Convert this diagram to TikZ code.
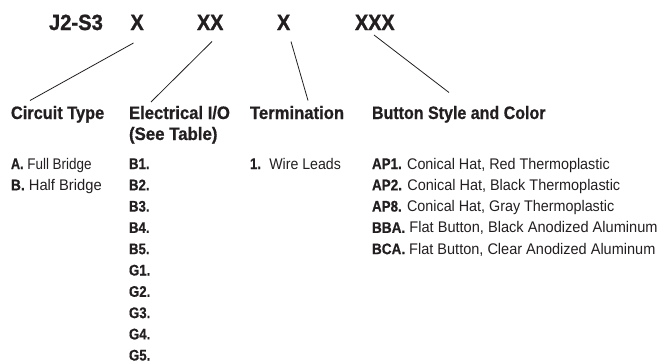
\documentclass[tikz,border=0pt]{standalone}
\usepackage{graphicx}
\usepackage{fontspec}
\setmainfont{Liberation Sans}[FakeStretch=0.92,BoldFeatures={FakeStretch=0.86,FakeBold=0.5}]
\newfontfamily\codefont{Liberation Sans Bold}[FakeStretch=0.90,FakeBold=1.2]
\newfontfamily\headfont{Liberation Sans Bold}[FakeStretch=0.89,FakeBold=0.7]
\definecolor{ink}{HTML}{231F20}
\newcommand{\fitx}[2]{\scalebox{#1}[1]{#2}}
\tikzset{
  txt/.style={anchor=base west,inner sep=0pt,outer sep=0pt,text=ink},
  code/.style={txt,font=\fontsize{22}{22}\codefont},
  head/.style={txt,font=\fontsize{18}{18}\headfont},
  body/.style={txt,font=\fontsize{15.4}{15.4}\selectfont},
  link/.style={draw=ink,line width=0.8pt}
}
\begin{document}
\begin{tikzpicture}[x=1pt,y=-1pt]
\useasboundingbox (0,0) rectangle (661,362);
\node[code] (pn) at (49,30) {\fitx{1.02}{J2-S3}};
\node[code] (x1) at (130.5,30) {X};
\node[code] (x2) at (197,30) {XX};
\node[code] (x3) at (277,30) {X};
\node[code] (x4) at (355,30) {XXX};
\node[head] (h1) at (11,119) {\fitx{1.02}{Circuit Type}};
\node[head] (h2) at (129,119) {\fitx{1.04}{Electrical I/O}};
\node[head] (h2b) at (129,140) {\fitx{1.05}{(See Table)}};
\node[head] (h3) at (250,119) {\fitx{1.04}{Termination}};
\node[head] (h4) at (372,119) {Button Style and Color};
\node[body] (a1) at (11,169) {\fitx{0.95}{\textbf{A.} Full Bridge}};
\node[body] (a2) at (11,190.3) {\fitx{1.04}{\textbf{B.} Half Bridge}};
\node[body] (b1) at (129,169) {\textbf{B1.}};
\node[body] (b2) at (129,190.3) {\textbf{B2.}};
\node[body] (b3) at (129,211.6) {\textbf{B3.}};
\node[body] (b4) at (129,232.9) {\textbf{B4.}};
\node[body] (b5) at (129,254.2) {\textbf{B5.}};
\node[body] (g1) at (129,275.5) {\textbf{G1.}};
\node[body] (g2) at (129,296.8) {\textbf{G2.}};
\node[body] (g3) at (129,318.1) {\textbf{G3.}};
\node[body] (g4) at (129,339.4) {\textbf{G4.}};
\node[body] (g5) at (129,360.5) {\textbf{G5.}};
\node[body] (t1) at (250,169) {\textbf{1.}\hspace{3pt} Wire Leads};
\node[body] (s1) at (372,169) {\fitx{1.013}{\textbf{AP1.} Conical Hat, Red Thermoplastic}};
\node[body] (s2) at (372,190.3) {\fitx{1.02}{\textbf{AP2.} Conical Hat, Black Thermoplastic}};
\node[body] (s3) at (372,211.6) {\fitx{1.012}{\textbf{AP8.} Conical Hat, Gray Thermoplastic}};
\node[body] (s4) at (372,232.9) {\fitx{1.03}{\textbf{BBA.} Flat Button, Black Anodized Aluminum}};
\node[body] (s5) at (372,254.2) {\fitx{1.025}{\textbf{BCA.} Flat Button, Clear Anodized Aluminum}};
\coordinate (l1a) at (133.5,43);
\coordinate (l1b) at (30,100.5);
\coordinate (l2a) at (212,41.5);
\coordinate (l2b) at (151,102);
\coordinate (l3a) at (291,41.5);
\coordinate (l3b) at (308,100.5);
\coordinate (l4a) at (374,35);
\coordinate (l4b) at (449,92.5);
\draw[link] (l1a) -- (l1b);
\draw[link] (l2a) -- (l2b);
\draw[link] (l3a) -- (l3b);
\draw[link] (l4a) -- (l4b);
\end{tikzpicture}
\end{document}
